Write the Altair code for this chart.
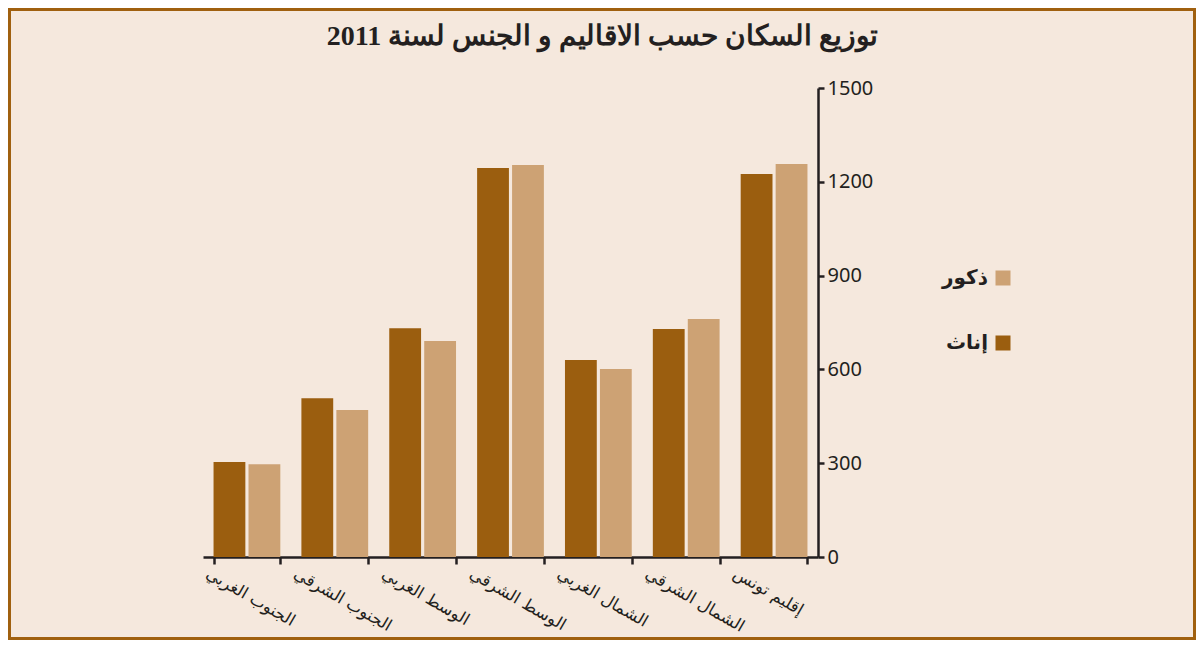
import altair as alt
import pandas as pd

regions = ["الجنوب الغربي", "الجنوب الشرقي", "الوسط الغربي", "الوسط الشرقي",
           "الشمال الغربي", "الشمال الشرقي", "إقليم تونس"]
females = [304, 508, 732, 1244, 630, 729, 1225]   # إناث
males = [297, 470, 691, 1254, 601, 761, 1257]     # ذكور
y_ticks = [0, 300, 600, 900, 1200, 1500]
title_text = "توزيع السكان حسب الاقاليم و الجنس لسنة 2011"

rows = []
for r, f, m in zip(regions, females, males):
    rows.append({"region": r, "sex": "إناث", "value": f})
    rows.append({"region": r, "sex": "ذكور", "value": m})
df = pd.DataFrame(rows)

DARK = "#9b5e0f"
LIGHT = "#cda274"
BG = "#f5e8dd"
AXIS = "#231f20"

W, H = 615, 469
PL, PT = 195, 80
TOTW, TOTH = 1188, 632

bars = alt.Chart(df).mark_bar().encode(
    x=alt.X("region:N", sort=regions, title=None,
            scale=alt.Scale(paddingInner=0.24, paddingOuter=0.12),
            axis=alt.Axis(tickBand="extent", labelAngle=30, labelAlign="left",
                          labelBaseline="top", labelFontSize=16.5, labelFont="DejaVu Sans",
                          labelColor=AXIS, labelPadding=1, labelOffset=-36,
                          domainColor=AXIS, domainWidth=2.5, tickColor=AXIS,
                          tickWidth=2.5, tickSize=7, labelLimit=300)),
    xOffset=alt.XOffset("sex:N", sort=["إناث", "ذكور"],
                        scale=alt.Scale(domain=["إناث", "ذكور"], paddingInner=0.09)),
    y=alt.Y("value:Q", title=None,
            scale=alt.Scale(domain=[0, 1500], nice=False),
            axis=alt.Axis(orient="right", values=y_ticks, grid=False, format="d",
                          labelFontSize=20, labelFont="Noto Sans", labelColor=AXIS,
                          domainColor=AXIS, domainWidth=2.5, tickColor=AXIS,
                          tickWidth=2.5, tickSize=6, labelPadding=3)),
    color=alt.Color("sex:N",
                    scale=alt.Scale(domain=["ذكور", "إناث"], range=[LIGHT, DARK]),
                    legend=alt.Legend(title=None, orient="none", legendX=790, legendY=180,
                                      symbolType="square", symbolSize=225,
                                      symbolStrokeWidth=0, labelAlign="right",
                                      labelOffset={"expr": "-25"}, labelFontSize=20,
                                      labelFontWeight="bold", labelFont="DejaVu Sans",
                                      labelColor=AXIS, rowPadding=45)),
)

frame = alt.Chart(pd.DataFrame({"k": [0]})).mark_rect(
    filled=False, stroke="#a0600f", strokeWidth=3
).encode(
    x=alt.value(-PL + 1.5), x2=alt.value(TOTW - PL - 1.5),
    y=alt.value(-PT + 1.5), y2=alt.value(TOTH - PT - 1.5),
)

chart = alt.layer(bars, frame).properties(
    width=W, height=H,
    title=alt.Title(title_text, fontSize=28, font="Liberation Serif",
                    fontWeight="bold", color=AXIS, anchor="middle", dx=92,
                    offset={"expr": "-43"}),
    autosize=alt.AutoSizeParams(type="none"),
    padding={"left": PL, "top": PT, "right": TOTW - PL - W, "bottom": TOTH - PT - H},
    background=BG,
).configure_view(stroke=None)

chart.save("out.html", embed_options={"renderer": "svg", "actions": False})
